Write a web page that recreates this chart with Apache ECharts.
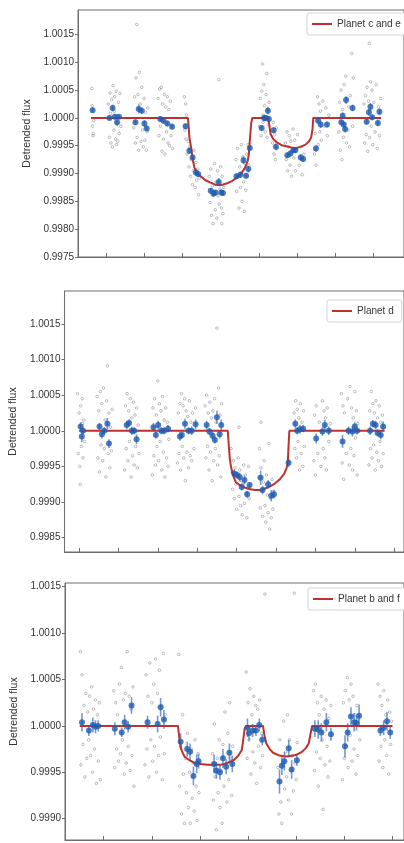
<!DOCTYPE html>
<html>
<head>
<meta charset="utf-8">
<script src="https://cdn.jsdelivr.net/npm/echarts@6/dist/echarts.min.js"></script>
<style>
html, body { margin: 0; padding: 0; background: #fff; }
#chart { width: 404px; height: 843px; }
</style>
</head>
<body>
<div id="chart"></div>
<script>
// x in hours-ish units (one tick per unit), y is detrended flux
var seriesNames = ['Planet c and e', 'Planet d', 'Planet b and f'];

var p1XTicks = [1, 2, 3, 4, 5, 6, 7, 8];
var p1YTicks = [0.9975, 0.9980, 0.9985, 0.9990, 0.9995, 1.0000, 1.0005, 1.0010, 1.0015];
var p2XTicks = [1, 2, 3, 4, 5, 6, 7, 8, 9];
var p2YTicks = [0.9985, 0.9990, 0.9995, 1.0000, 1.0005, 1.0010, 1.0015];
var p3XTicks = [1, 2, 3, 4, 5, 6, 7];
var p3YTicks = [0.9990, 0.9995, 1.0000, 1.0005, 1.0010, 1.0015];

// panel 1 : planet c and e
var p1Model = [[0.60,1],[3.14,1],[3.16,0.99985],[3.18,0.99965],[3.225,0.99947],[3.27,0.99925],[3.31,0.99911],[3.38,0.99902],[3.475,0.99895],[3.6,0.99888],[3.725,0.99884],[3.86,0.99880],[4.0,0.99879],[4.15,0.99882],[4.31,0.99887],[4.45,0.99894],[4.56,0.99902],[4.65,0.99912],[4.71,0.99923],[4.74,0.99935],[4.765,0.99959],[4.80,0.9999],[4.83,1],[5.25,1],[5.27,0.9999],[5.31,0.99971],[5.38,0.99962],[5.475,0.99956],[5.6,0.99951],[5.725,0.99949],[5.85,0.99947],[5.975,0.99946],[6.1,0.99948],[6.225,0.99952],[6.32,0.99958],[6.375,0.99965],[6.41,0.9998],[6.43,1],[8.21,1]];
var p1Bin = [[0.64,1.00014,0.00005],[1.083,1.0000,0.00004],[1.165,1.00018,0.00006],[1.225,1.00002,0.00005],[1.283,0.99992,0.00006],[1.333,1.00002,0.00004],[1.765,0.99992,0.00005],[1.85,1.00016,0.00008],[1.93,1.00013,0.00006],[2.0,0.9999,0.00006],[2.06,0.99981,0.00005],[2.415,0.99998,0.00005],[2.5,0.99995,0.00006],[2.6,0.9999,0.00005],[2.725,0.99984,0.00004],[3.08,0.99985,0.00005],[3.18,0.99941,0.00006],[3.265,0.99929,0.00005],[3.35,0.99902,0.00006],[3.41,0.99899,0.00005],[3.74,0.99869,0.00005],[3.81,0.99864,0.00006],[3.865,0.99866,0.00005],[3.95,0.99885,0.00007],[4.015,0.99866,0.00005],[4.06,0.99865,0.00005],[4.415,0.99895,0.00005],[4.515,0.99898,0.00006],[4.6,0.99924,0.00007],[4.665,0.99896,0.00005],[4.725,0.99908,0.00006],[4.765,0.99946,0.00005],[5.075,0.99982,0.00005],[5.14,1.0,0.00006],[5.18,1.0,0.00005],[5.24,1.00013,0.00007],[5.265,0.99998,0.00005],[5.39,0.99978,0.00005],[5.45,0.99948,0.00006],[5.75,0.99933,0.00005],[5.83,0.99936,0.00006],[5.91,0.99942,0.00005],[5.96,0.99942,0.00005],[6.1,0.99929,0.00006],[6.165,0.99926,0.00005],[6.5,0.99945,0.00006],[6.56,0.99995,0.00005],[6.625,0.99988,0.00006],[6.79,0.99988,0.00005],[7.165,0.99992,0.00005],[7.2,1.00004,0.00006],[7.225,0.99988,0.00005],[7.265,0.9998,0.00006],[7.29,1.00032,0.00007],[7.46,1.00018,0.00006],[7.83,0.99993,0.00005],[7.89,1.0001,0.00006],[7.93,1.0002,0.00007],[7.975,1.00001,0.00005],[8.125,0.99991,0.00006],[8.165,1.00011,0.00006]];
var p1Gray = [[0.62,1.00053],[0.64,0.99985],[0.66,0.99972],[0.63,1.00022],[0.67,0.99995],[0.65,0.99968],
[1.05,1.00025],[1.08,0.99965],[1.10,1.00045],[1.12,0.99955],[1.14,1.00033],[1.16,0.99948],[1.18,1.00058],[1.20,0.99978],[1.22,1.00038],[1.24,0.99962],[1.26,1.00048],[1.28,0.9999],[1.30,0.99958],[1.32,1.00028],[1.34,0.99972],[1.36,1.00044],[1.38,0.99985],[1.21,1.00012],[1.27,0.99952],[1.11,1.00008],
[1.72,0.99982],[1.74,1.00038],[1.76,0.99955],[1.78,1.00072],[1.80,1.00168],[1.81,0.99965],[1.83,1.00042],[1.85,0.99942],[1.87,1.00082],[1.89,1.00025],[1.91,0.99958],[1.93,1.00055],[1.95,0.99978],[1.97,0.99948],[1.99,1.00035],[2.01,0.9996],[2.03,1.0001],[2.05,0.99942],[2.07,0.99975],[2.09,1.00018],
[2.36,1.00035],[2.38,0.99968],[2.40,1.00052],[2.42,0.99985],[2.44,1.00055],[2.46,0.9994],[2.48,1.00025],[2.50,0.99962],[2.52,1.00042],[2.54,0.99935],[2.56,1.0002],[2.58,0.99975],[2.60,1.00038],[2.62,0.99955],[2.64,1.00015],[2.66,0.9995],[2.68,1.0003],[2.70,0.99968],[2.72,0.99988],[2.74,0.99945],
[3.05,1.00038],[3.06,0.99978],[3.08,1.00025],[3.09,0.99962],[3.10,1.00005],[3.12,0.99935],[3.15,0.99958],[3.17,0.99912],[3.19,0.99948],[3.21,0.99895],[3.23,0.99925],[3.26,0.9988],[3.28,0.99905],[3.30,0.99942],[3.33,0.99875],[3.35,0.9992],[3.37,0.99888],[3.40,0.99908],[3.42,0.99862],[3.44,0.99892],
[3.70,0.99895],[3.72,0.99848],[3.74,0.99908],[3.76,0.99825],[3.78,0.99878],[3.80,0.9981],[3.82,0.99862],[3.84,0.99918],[3.86,0.99835],[3.88,0.99885],[3.90,0.9982],[3.92,0.99905],[3.95,1.00069],[3.96,0.99845],[3.98,0.99872],[4.00,0.99912],[4.02,0.99838],[4.04,0.99895],[4.06,0.99828],[4.08,0.99875],[3.93,0.9986],[4.03,0.9981],
[4.40,0.99925],[4.42,0.99868],[4.44,0.99945],[4.46,0.99895],[4.48,0.99838],[4.50,0.99912],[4.52,0.99875],[4.54,0.99952],[4.56,0.9985],[4.58,0.9993],[4.60,0.99885],[4.62,0.99832],[4.64,0.99918],[4.66,0.9987],[4.68,0.99935],[4.70,0.99895],[4.72,0.99952],[4.74,0.99915],
[5.02,0.99985],[5.04,1.00035],[5.06,0.99968],[5.08,1.00048],[5.10,1.00097],[5.11,0.99992],[5.13,1.0006],[5.15,1.00022],[5.17,0.99975],[5.19,1.00042],[5.21,1.0008],[5.23,1.00015],[5.25,0.99988],[5.27,1.00028],[5.12,1.00005],[5.22,0.99965],
[5.36,0.99955],[5.38,0.99992],[5.40,0.99935],[5.42,0.9997],[5.44,0.99925],[5.46,0.99982],[5.48,0.99945],
[5.70,0.99955],[5.72,0.99925],[5.74,0.99975],[5.76,0.99905],[5.78,0.99948],[5.80,0.99968],[5.82,0.99915],[5.84,0.99958],[5.86,0.99895],[5.88,0.99942],[5.90,0.9998],[5.92,0.99928],[5.94,0.9996],[5.96,0.99905],[5.98,0.99945],[6.02,0.9997],[6.06,0.99915],[6.10,0.99948],[6.14,0.99898],[6.18,0.99935],
[6.46,0.99935],[6.48,0.99972],[6.50,0.99915],[6.52,0.99995],[6.54,1.00038],[6.56,0.99952],[6.58,1.00025],[6.60,0.99975],[6.62,1.00012],[6.64,0.9996],[6.68,1.0003],[6.72,0.99985],[6.76,1.00018],[6.80,0.99968],[6.84,1.00005],
[7.10,0.99975],[7.12,1.00028],[7.14,0.99942],[7.16,1.0005],[7.18,0.99925],[7.20,1.00015],[7.22,0.99965],[7.24,1.0006],[7.26,0.9999],[7.28,1.00075],[7.30,0.99955],[7.32,1.00035],[7.34,0.99978],[7.36,1.0002],[7.38,0.99948],[7.40,1.0004],[7.44,1.00116],[7.46,0.99985],[7.48,1.00072],
[7.76,1.00025],[7.78,0.99955],[7.80,1.0004],[7.82,0.9997],[7.84,1.00055],[7.86,0.9994],[7.88,1.0003],[7.90,1.00134],[7.91,0.99965],[7.93,1.00065],[7.95,0.99985],[7.97,1.0005],[7.99,0.99952],[8.02,1.00028],[8.05,0.99975],[8.08,1.0006],[8.11,0.99945],[8.14,1.0002],[8.17,0.99968],[8.20,1.00035]];

// panel 2 : planet d
var p2Model = [[1.0,1],[4.776,1],[4.80,0.9998],[4.83,0.9996],[4.86,0.99949],[4.92,0.99936],[4.98,0.99928],[5.1,0.99923],[5.23,0.9992],[5.35,0.99918],[5.475,0.99917],[5.6,0.99917],[5.72,0.99919],[5.85,0.99922],[5.97,0.99926],[6.1,0.99932],[6.21,0.9994],[6.27,0.99948],[6.30,0.99955],[6.32,0.9998],[6.34,1],[8.76,1]];
var p2Bin = [[1.04,1.00006,0.00006],[1.07,0.99992,0.00008],[1.10,1.0,0.00005],[1.52,1.00006,0.00005],[1.58,0.99995,0.00006],[1.64,1.0,0.00005],[1.72,1.0001,0.00008],[1.76,0.99982,0.00006],[2.21,1.00008,0.00006],[2.27,1.00011,0.00005],[2.34,1.0,0.00006],[2.40,1.0,0.00005],[2.46,0.99988,0.00007],[2.89,1.00005,0.00006],[2.95,0.99994,0.00005],[3.01,1.00008,0.00006],[3.09,1.0,0.00005],[3.16,1.0,0.00005],[3.26,1.00003,0.00005],[3.56,0.99992,0.00006],[3.61,0.99994,0.00005],[3.69,1.0001,0.00007],[3.78,1.0,0.00005],[3.86,1.0,0.00006],[3.96,1.00009,0.00007],[4.24,1.00008,0.00006],[4.31,0.99999,0.00005],[4.39,0.99993,0.00006],[4.45,0.99987,0.00005],[4.50,1.00019,0.00009],[4.57,0.99995,0.00006],[4.61,1.00008,0.00008],[4.94,0.9994,0.00006],[5.01,0.99938,0.00005],[5.08,0.99935,0.00006],[5.13,0.99921,0.00005],[5.20,0.99931,0.00006],[5.27,0.99911,0.00005],[5.33,0.99924,0.00004],[5.61,0.99934,0.0001],[5.66,0.99917,0.00006],[5.80,0.99925,0.00006],[5.88,0.99909,0.00008],[5.95,0.99911,0.00006],[6.32,0.99955,0.00006],[6.49,1.0001,0.00006],[6.54,1.0,0.00005],[6.61,1.00002,0.00006],[6.69,1.00003,0.00005],[7.02,0.99989,0.00007],[7.18,0.99999,0.00006],[7.24,1.00008,0.00007],[7.34,1.0,0.00006],[7.69,0.99985,0.00009],[7.84,1.0,0.00006],[7.94,0.99999,0.00007],[8.0,1.00006,0.00006],[8.06,1.0,0.00005],[8.39,1.0,0.00006],[8.46,1.0001,0.00005],[8.53,1.00008,0.00006],[8.58,0.99997,0.00005],[8.66,0.99994,0.00006],[8.72,1.00006,0.00007]];
var p2Gray = [[0.96,1.00052],[0.98,0.99968],[1.00,1.00025],[1.02,0.9995],[1.04,1.00035],[1.06,0.99978],[1.08,1.00045],[1.10,0.99962],[1.12,1.00015],[1.14,0.99985],[1.03,0.99925],[1.09,1.0001],
[1.46,1.00048],[1.48,0.99962],[1.50,1.00028],[1.52,0.99942],[1.54,1.00055],[1.56,0.9998],[1.58,1.00038],[1.60,0.99958],[1.62,1.0006],[1.64,0.99975],[1.66,1.00015],[1.68,0.99935],[1.70,1.00042],[1.72,1.00091],[1.74,0.99968],[1.76,1.00025],[1.78,0.99948],[1.80,1.00005],[1.82,0.99972],[1.84,1.0003],
[2.16,0.99945],[2.18,1.00035],[2.20,0.99975],[2.22,1.00052],[2.24,0.99958],[2.26,1.00028],[2.28,0.99985],[2.30,1.00045],[2.32,0.99935],[2.34,1.00018],[2.36,0.99965],[2.38,1.0004],[2.40,0.99952],[2.42,1.00022],[2.44,0.99978],[2.46,1.00032],[2.48,0.99948],[2.50,1.00008],[2.52,0.99968],
[2.86,0.99938],[2.88,1.00032],[2.90,0.99965],[2.92,1.00045],[2.94,0.99952],[2.96,1.00022],[2.98,0.99978],[3.00,1.0007],[3.02,0.99958],[3.04,1.00038],[3.06,0.99985],[3.08,1.00028],[3.10,0.99945],[3.12,1.00048],[3.14,0.9997],[3.16,1.00015],[3.18,0.99935],[3.20,1.00032],[3.22,0.99962],[3.24,1.00012],[3.26,0.9995],[3.28,0.99988],
[3.50,0.99955],[3.52,1.00025],[3.54,0.99968],[3.56,1.00038],[3.58,0.99945],[3.60,1.00052],[3.62,0.99978],[3.64,1.00035],[3.66,0.99962],[3.68,1.00045],[3.70,0.9993],[3.72,1.00028],[3.74,0.9997],[3.76,1.0002],[3.78,0.99948],[3.80,1.00042],[3.82,0.99965],[3.84,1.00012],[3.86,0.99958],[3.88,1.00025],[3.92,0.99975],[3.96,1.00032],
[4.20,1.00035],[4.22,0.99962],[4.24,1.0005],[4.26,0.99978],[4.28,1.00025],[4.30,0.99945],[4.32,1.0004],[4.34,0.9997],[4.36,1.00018],[4.38,0.9993],[4.40,1.00028],[4.42,0.99958],[4.44,1.00045],[4.46,0.99975],[4.48,1.00012],[4.50,1.00144],[4.52,0.99952],[4.54,1.0006],[4.56,0.99965],[4.58,1.00022],[4.60,0.99935],[4.62,1.00038],
[4.86,0.99975],[4.88,0.99942],[4.90,0.99918],[4.92,0.99958],[4.94,0.99905],[4.96,0.99948],[4.98,0.99925],[5.00,0.9989],[5.02,0.99935],[5.04,0.99962],[5.06,0.99908],[5.08,0.99945],[5.10,0.99895],[5.12,0.9993],[5.14,0.99882],[5.16,0.99925],[5.18,0.99952],[5.20,0.99898],[5.22,0.99938],[5.24,0.99912],[5.26,0.99878],[5.28,0.9992],[5.30,0.9995],[5.32,0.99905],[5.06,1.00005],
[5.56,0.99935],[5.58,0.99975],[5.60,0.99892],[5.62,0.99948],[5.64,0.99915],[5.66,0.9988],[5.68,0.99928],[5.70,0.99958],[5.72,0.99895],[5.74,0.99872],[5.76,0.99938],[5.78,0.9991],[5.80,0.99885],[5.82,0.99925],[5.84,0.99862],[5.86,0.99905],[5.88,0.99878],[5.90,0.99932],[5.92,0.9989],[5.94,0.99915],[5.62,1.00012],[5.82,0.99982],
[6.46,1.00025],[6.48,0.99975],[6.50,1.00042],[6.52,0.99962],[6.54,1.0003],[6.56,0.99985],[6.58,1.00018],[6.60,0.99945],[6.62,1.00038],[6.64,0.99968],[6.66,1.00012],[6.68,0.9995],[6.70,1.00028],[6.72,0.99978],
[6.96,0.99958],[6.98,1.00022],[7.00,0.99938],[7.02,1.00035],[7.06,0.99968],[7.10,1.00012],[7.14,0.9995],[7.18,1.00042],[7.20,0.99975],[7.22,1.00028],[7.24,0.99962],[7.26,1.00018],[7.28,0.99945],[7.30,1.00032],[7.34,0.99985],[7.38,1.0001],
[7.66,1.00052],[7.68,0.99955],[7.70,1.00035],[7.72,0.99932],[7.74,1.00025],[7.78,0.99968],[7.82,1.00045],[7.86,0.99952],[7.88,1.00062],[7.90,0.99975],[7.92,1.00032],[7.94,0.99945],[7.96,1.00018],[7.98,0.99965],[8.00,1.00055],[8.02,0.9999],[8.04,1.00028],[8.06,0.99938],[8.08,1.0001],
[8.36,0.99952],[8.38,1.00028],[8.40,0.99975],[8.42,1.00055],[8.44,0.99962],[8.46,1.00038],[8.48,0.9998],[8.50,1.00025],[8.52,0.99945],[8.54,1.00042],[8.56,0.9997],[8.58,1.00018],[8.60,0.99958],[8.62,1.00035],[8.64,0.99985],[8.66,1.00012],[8.68,0.9995],[8.70,1.00022],[8.72,0.99968],[8.74,1.00005]];

// panel 3 : planet b and f
var p3Model = [[0.504,1],[2.545,1],[2.57,0.99988],[2.60,0.99977],[2.64,0.99971],[2.68,0.99967],[2.78,0.99963],[2.886,0.9996],[3.02,0.99959],[3.157,0.99958],[3.3,0.99958],[3.43,0.99958],[3.57,0.9996],[3.70,0.99963],[3.80,0.99968],[3.87,0.99974],[3.90,0.99985],[3.93,0.99997],[3.96,1],[4.31,1],[4.34,0.9999],[4.38,0.99981],[4.45,0.99975],[4.52,0.99971],[4.65,0.99968],[4.79,0.99967],[4.95,0.99968],[5.05,0.9997],[5.12,0.99972],[5.2,0.99976],[5.26,0.99981],[5.30,0.99992],[5.33,1],[7.0,1]];
var p3Bin = [[0.551,1.00004,0.0001],[0.694,0.99995,0.00006],[0.776,1.00001,0.00008],[0.831,0.99999,0.00007],[0.886,1.0,0.00006],[1.233,0.99997,0.00007],[1.376,0.99993,0.00005],[1.437,1.00004,0.00008],[1.51,0.99999,0.00006],[1.58,1.00022,0.00009],[1.912,1.00004,0.00007],[2.122,1.00002,0.00009],[2.184,1.0002,0.0001],[2.253,1.00007,0.0001],[2.6,0.99983,0.00009],[2.735,0.99975,0.00008],[2.796,0.99972,0.00009],[2.865,0.99946,0.0001],[2.933,0.99959,0.0001],[2.973,0.99962,0.00008],[3.294,0.99959,0.0001],[3.341,0.99952,0.00009],[3.416,0.9995,0.00008],[3.478,0.99965,0.0001],[3.545,0.99956,0.00008],[3.612,0.99971,0.0001],[3.673,0.99959,0.00009],[3.988,0.99998,0.0001],[4.02,0.99992,0.00008],[4.096,0.99995,0.00007],[4.163,0.99995,0.00006],[4.233,1.00001,0.00007],[4.294,0.99985,0.00006],[4.653,0.9994,0.00013],[4.702,0.99957,0.0001],[4.755,0.99962,0.0001],[4.845,0.99976,0.00009],[4.906,0.99953,0.0001],[5.014,0.99963,0.00006],[5.388,0.99997,0.00009],[5.457,0.99996,0.0001],[5.524,0.99993,0.0001],[5.627,1.00004,0.0001],[5.722,0.99991,0.00007],[6.014,0.99978,0.00012],[6.069,0.99993,0.0001],[6.137,1.0001,0.0001],[6.204,1.00004,0.0001],[6.253,1.00003,0.00008],[6.306,1.00011,0.00012],[6.749,0.99995,0.00006],[6.816,0.99998,0.00008],[6.886,1.00005,0.0001],[6.953,0.99993,0.00007]];
var p3Gray = [[0.52,1.0008],[0.53,0.99958],[0.55,1.00055],[0.57,0.9998],[0.59,1.00022],[0.61,0.99945],[0.63,1.00035],[0.65,0.99965],[0.67,1.00015],[0.69,0.99985],[0.71,1.00032],[0.73,0.99968],[0.75,1.00042],[0.77,0.9995],[0.79,1.00018],[0.81,0.99975],[0.83,1.00028],[0.85,0.99938],[0.87,1.00012],[0.89,0.99962],[0.91,1.00025],[0.93,0.99942],
[1.21,1.00038],[1.23,0.99955],[1.25,1.00025],[1.27,0.99975],[1.29,1.00012],[1.31,0.99962],[1.33,1.00045],[1.35,0.9997],[1.37,1.00063],[1.39,0.99985],[1.41,1.00028],[1.43,0.99948],[1.45,1.00035],[1.47,0.9996],[1.49,1.0008],[1.51,0.99978],[1.53,1.00032],[1.55,0.99952],[1.57,1.00018],[1.59,0.99968],[1.61,1.00042],[1.63,0.99935],
[1.86,0.99958],[1.88,1.00055],[1.90,0.99975],[1.92,1.00032],[1.94,0.99945],[1.96,1.00068],[1.98,0.99985],[2.00,1.00025],[2.02,0.99962],[2.04,1.00045],[2.06,0.99978],[2.08,1.00072],[2.10,0.9995],[2.12,1.00035],[2.14,0.99968],[2.16,1.0006],[2.18,0.99988],[2.20,1.00022],[2.22,0.99942],[2.24,1.00078],[2.26,0.9997],[2.28,1.00012],
[2.56,1.00077],[2.58,0.99935],[2.60,0.99978],[2.62,0.99905],[2.64,1.00012],[2.66,0.99948],[2.68,0.99895],[2.70,0.99965],[2.72,0.99928],[2.74,0.99992],[2.76,0.99912],[2.78,0.9995],[2.80,0.99895],[2.82,0.99975],[2.84,0.99922],[2.86,0.9996],[2.88,0.99908],[2.90,0.99985],[2.92,0.99935],[2.94,0.99898],[2.96,0.9997],[2.98,0.99928],
[3.26,0.9997],[3.28,0.9992],[3.30,1.00002],[3.32,0.99945],[3.34,0.99888],[3.36,0.99965],[3.38,0.99928],[3.40,0.99985],[3.42,0.99912],[3.44,0.99952],[3.46,0.99895],[3.48,0.9998],[3.50,0.99935],[3.52,1.00015],[3.54,0.99958],[3.56,0.99918],[3.58,0.99992],[3.60,0.99942],[3.62,1.00025],[3.64,0.99965],[3.66,0.99925],[3.68,0.99978],
[3.96,1.00058],[3.98,0.99965],[4.00,1.00025],[4.02,0.99985],[4.04,1.0004],[4.06,0.99948],[4.08,1.00012],[4.10,0.99972],[4.12,1.00032],[4.14,0.9996],[4.16,1.00022],[4.18,0.99938],[4.20,1.00018],[4.22,0.99978],[4.24,1.00028],[4.26,0.99955],[4.28,0.99992],[4.30,0.99968],[4.35,1.00142],
[4.62,0.99955],[4.64,0.99905],[4.66,0.99985],[4.68,0.99918],[4.70,0.99895],[4.72,0.9996],[4.74,1.00005],[4.76,0.99932],[4.78,0.99972],[4.80,0.99945],[4.82,1.00012],[4.84,0.9992],[4.86,0.99985],[4.88,0.99952],[4.90,0.99905],[4.92,0.99968],[4.94,0.9993],[4.96,1.00143],[4.98,0.9996],[5.00,0.99942],[5.02,0.99982],
[5.36,1.00038],[5.38,0.99952],[5.40,1.00045],[5.42,0.99972],[5.44,1.00025],[5.46,0.99935],[5.48,1.00012],[5.50,0.99965],[5.52,1.00032],[5.54,0.99985],[5.56,0.9991],[5.58,1.00018],[5.60,0.99958],[5.62,1.00028],[5.64,0.99978],[5.66,0.99945],[5.68,1.00008],[5.70,0.99962],[5.72,1.00022],
[5.96,0.99942],[5.98,1.00025],[6.00,0.99965],[6.02,1.00038],[6.04,0.99978],[6.06,1.00052],[6.08,0.99955],[6.10,1.00028],[6.12,0.9999],[6.14,1.00045],[6.16,0.99962],[6.18,1.00032],[6.20,0.99975],[6.22,1.00012],[6.24,0.99948],[6.26,1.00022],[6.28,0.99968],[6.30,1.00008],[6.32,0.99985],
[6.70,1.00045],[6.72,0.99962],[6.74,1.00032],[6.76,0.99978],[6.78,1.00022],[6.80,0.99955],[6.82,1.00038],[6.84,0.99985],[6.86,1.00012],[6.88,0.99968],[6.90,1.00028],[6.92,0.99948],[6.94,1.00015],[6.96,0.9998],[6.98,1.00005]];

var myChart = echarts.init(document.getElementById('chart'), null, {renderer: 'canvas'});
var font = 'Liberation Sans, Arial, sans-serif';

// one entry per panel: grid box + axis ranges
var panels = [
  {grid: {left: 78, top: 10, width: 342, height: 247}, xMin: 0.2575, xMax: 8.81, yMin: 0.9975, yMax: 1.00194, nameGap: 30,
   xTicks: p1XTicks, yTicks: p1YTicks, model: p1Model, bin: p1Bin, gray: p1Gray, legend: {left: 307, top: 13}},
  {grid: {left: 60, top: 291, width: 350, height: 261}, xMin: 0.6305, xMax: 9.25, yMin: 0.99830, yMax: 1.00196, nameGap: 36,
   xTicks: p2XTicks, yTicks: p2YTicks, model: p2Model, bin: p2Bin, gray: p2Gray, legend: {left: 327, top: 300}},
  {grid: {left: 65, top: 583, width: 345, height: 257}, xMin: 0.198, xMax: 7.239, yMin: 0.99877, yMax: 1.00154, nameGap: 33,
   xTicks: p3XTicks, yTicks: p3YTicks, model: p3Model, bin: p3Bin, gray: p3Gray, legend: {left: 308, top: 588}}
];

var grids = [], xAxes = [], yAxes = [], legends = [], series = [];

panels.forEach(function (p, i) {
  grids.push({left: p.grid.left, top: p.grid.top, width: p.grid.width, height: p.grid.height,
    show: true, borderColor: '#6d6d6d', borderWidth: 1});
  xAxes.push({
    gridIndex: i, type: 'value', min: p.xMin, max: p.xMax,
    axisLine: {show: true, lineStyle: {color: '#6d6d6d'}},
    axisTick: {show: true, inside: true, length: 4, customValues: p.xTicks, lineStyle: {color: '#6d6d6d'}},
    axisLabel: {show: false},
    splitLine: {show: false}
  });
  yAxes.push({
    gridIndex: i, type: 'value', min: p.yMin, max: p.yMax,
    name: 'Detrended flux', nameLocation: 'middle', nameGap: p.nameGap, nameRotate: 90,
    nameTextStyle: {fontSize: 10.5, color: '#333', fontFamily: font},
    axisLine: {show: true, lineStyle: {color: '#6d6d6d'}},
    axisTick: {show: true, inside: false, length: 3, customValues: p.yTicks, lineStyle: {color: '#6d6d6d'}},
    axisLabel: {fontSize: 10, color: '#333', fontFamily: font, margin: 4, customValues: p.yTicks,
      formatter: function (v) { return v.toFixed(4); }},
    splitLine: {show: false}
  });
  legends.push({
    left: p.legend.left, top: p.legend.top, orient: 'horizontal',
    data: [{name: seriesNames[i], icon: 'rect'}],
    backgroundColor: '#fff', borderColor: '#d4d4d4', borderWidth: 1, borderRadius: 2,
    padding: [6, 8, 6, 5], itemWidth: 20, itemHeight: 2, itemGap: 6,
    textStyle: {fontSize: 10, color: '#333', fontFamily: font},
    selectedMode: false
  });
  // gray unbinned points
  series.push({
    type: 'scatter', xAxisIndex: i, yAxisIndex: i, data: p.gray,
    symbolSize: 2.6, silent: true, z: 1,
    itemStyle: {color: 'rgba(255,255,255,0)', borderColor: 'rgba(120,120,120,0.75)', borderWidth: 0.8}
  });
  // error bars of binned points
  series.push({
    type: 'custom', xAxisIndex: i, yAxisIndex: i, data: p.bin, z: 2, silent: true,
    encode: {x: 0, y: 1},
    renderItem: function (params, api) {
      var x = api.value(0), y = api.value(1), e = api.value(2);
      var a = api.coord([x, y - e]), b = api.coord([x, y + e]);
      return {type: 'line', shape: {x1: a[0], y1: a[1], x2: b[0], y2: b[1]},
        style: {stroke: 'rgba(70,120,200,0.75)', lineWidth: 1.6}};
    }
  });
  // model
  series.push({
    name: seriesNames[i], type: 'line', xAxisIndex: i, yAxisIndex: i, data: p.model,
    symbol: 'none', z: 3, silent: true,
    lineStyle: {color: '#c0302c', width: 2}, itemStyle: {color: '#c0302c'}
  });
  // binned points
  series.push({
    type: 'scatter', xAxisIndex: i, yAxisIndex: i, data: p.bin,
    symbolSize: 6, z: 4, silent: true,
    itemStyle: {color: '#1f5bb0'}
  });
});

var option = {
  backgroundColor: '#fff',
  animation: false,
  grid: grids,
  xAxis: xAxes,
  yAxis: yAxes,
  legend: legends,
  series: series
};
myChart.setOption(option);
</script>
</body>
</html>
